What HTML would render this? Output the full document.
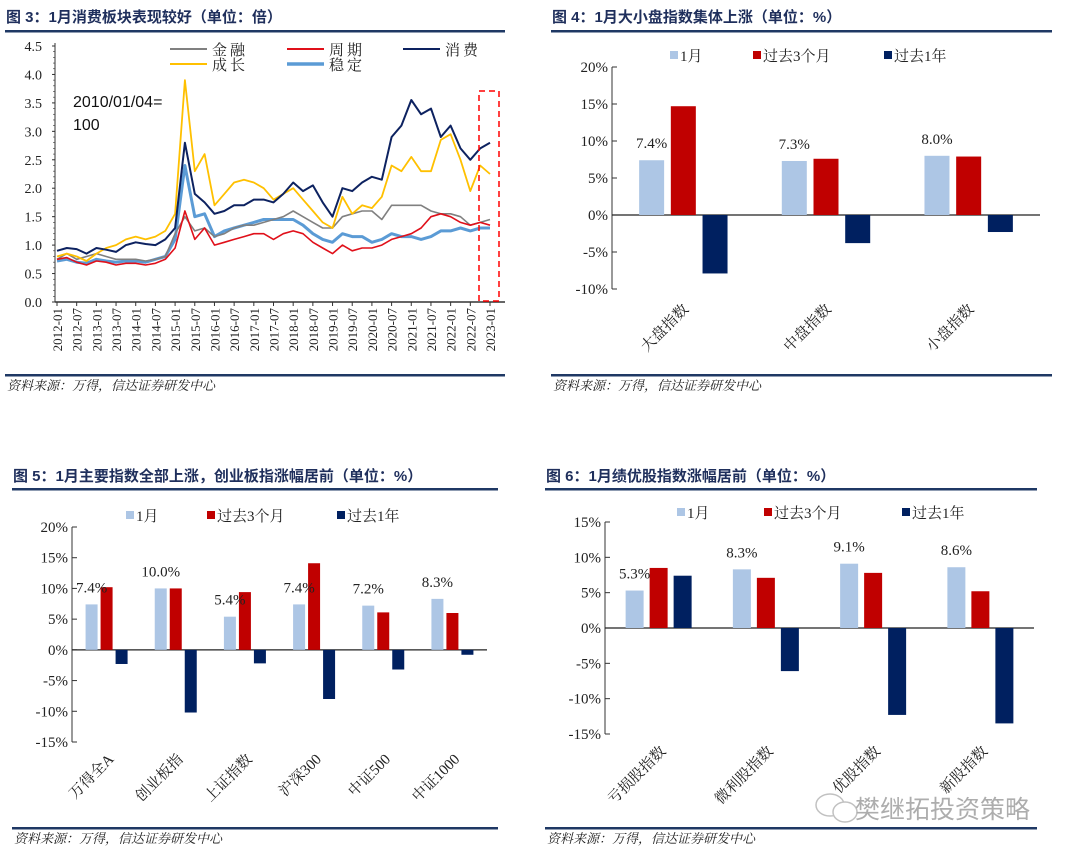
<!DOCTYPE html>
<html><head><meta charset="utf-8">
<style>
body{margin:0;background:#fff;width:1080px;height:858px;overflow:hidden}
svg{display:block}
.ttl{font-family:"Liberation Sans","Noto Sans CJK SC",sans-serif;font-weight:bold;font-size:15px;fill:#1f2f5c}
.src{font-family:"Liberation Serif","Noto Serif CJK SC",serif;font-style:italic;font-size:13px;fill:#222}
.tk{font-family:"Liberation Serif","Noto Serif CJK SC",serif;font-size:14px;fill:#222}
.lg{font-family:"Liberation Serif","Noto Serif CJK SC",serif;font-size:14px;fill:#222}
</style></head><body>
<svg id="root" width="1080" height="858" viewBox="0 0 1080 858"></svg>
<script>
// ---------- Chart 1 data (quarterly, 2012Q1..2023Q1) ----------
const lineStartYear = 2012;
const lineStepYears = 0.25;
const xTickLabels = ["2012-01","2012-07","2013-01","2013-07","2014-01","2014-07","2015-01","2015-07","2016-01","2016-07","2017-01","2017-07","2018-01","2018-07","2019-01","2019-07","2020-01","2020-07","2021-01","2021-07","2022-01","2022-07","2023-01"];
const yTicks1 = [0,0.5,1,1.5,2,2.5,3,3.5,4,4.5];
const seriesFinance = [0.75,0.85,0.75,0.8,0.85,0.8,0.75,0.75,0.75,0.72,0.75,0.8,1.2,1.5,1.25,1.3,1.15,1.2,1.3,1.35,1.35,1.4,1.45,1.5,1.6,1.5,1.4,1.3,1.3,1.5,1.55,1.6,1.6,1.45,1.7,1.7,1.7,1.7,1.6,1.55,1.55,1.5,1.35,1.4,1.45];
const seriesCycle = [0.75,0.78,0.7,0.65,0.72,0.7,0.65,0.68,0.68,0.65,0.68,0.75,0.95,1.6,1.1,1.3,1.0,1.05,1.1,1.15,1.2,1.2,1.1,1.2,1.25,1.2,1.05,0.95,0.85,1.0,0.9,0.95,0.95,1.0,1.1,1.15,1.2,1.3,1.5,1.55,1.5,1.4,1.35,1.4,1.35];
const seriesConsumer = [0.9,0.95,0.93,0.85,0.95,0.92,0.88,1.0,1.05,1.02,1.0,1.1,1.3,2.8,1.9,1.75,1.55,1.6,1.7,1.7,1.8,1.8,1.75,1.9,2.1,1.95,2.05,1.75,1.5,2.0,1.95,2.1,2.2,2.15,2.9,3.1,3.55,3.3,3.4,2.9,3.1,2.7,2.5,2.7,2.8];
const seriesGrowth = [0.8,0.85,0.8,0.72,0.85,0.95,1.0,1.1,1.15,1.1,1.15,1.25,1.55,3.9,2.3,2.6,1.7,1.9,2.1,2.15,2.1,2.0,1.8,1.9,2.0,1.8,1.6,1.4,1.3,1.85,1.55,1.7,1.65,1.85,2.4,2.3,2.55,2.3,2.3,2.85,2.95,2.5,1.95,2.4,2.25];
const seriesStable = [0.72,0.75,0.7,0.68,0.75,0.72,0.7,0.72,0.72,0.7,0.75,0.8,1.1,2.4,1.5,1.55,1.15,1.25,1.3,1.35,1.4,1.45,1.45,1.45,1.45,1.35,1.2,1.1,1.05,1.2,1.15,1.15,1.05,1.1,1.2,1.15,1.15,1.1,1.15,1.25,1.25,1.3,1.25,1.3,1.3];

// ---------- Chart 2 data ----------
const cats2 = ["大盘指数","中盘指数","小盘指数"];
const jan2 = [7.4,7.3,8.0];
const m3_2 = [14.7,7.6,7.9];
const y1_2 = [-7.9,-3.8,-2.3];
const yTicks2 = [-10,-5,0,5,10,15,20];

// ---------- Chart 3 data ----------
const cats3 = ["万得全A","创业板指","上证指数","沪深300","中证500","中证1000"];
const jan3 = [7.4,10.0,5.4,7.4,7.2,8.3];
const m3_3 = [10.2,10.0,9.4,14.1,6.1,6.0];
const y1_3 = [-2.3,-10.2,-2.2,-8.0,-3.2,-0.8];
const yTicks3 = [-15,-10,-5,0,5,10,15,20];

// ---------- Chart 4 data ----------
const cats4 = ["亏损股指数","微利股指数","优股指数","新股指数"];
const jan4 = [5.3,8.3,9.1,8.6];
const m3_4 = [8.5,7.1,7.8,5.2];
const y1_4 = [7.4,-6.1,-12.3,-13.5];
const yTicks4 = [-15,-10,-5,0,5,10,15];

const NS="http://www.w3.org/2000/svg";
const root=document.getElementById('root');
function mk(tag,attrs,parent,text){const e=document.createElementNS(NS,tag);for(const k in attrs)e.setAttribute(k,attrs[k]);if(text!==undefined)e.textContent=text;(parent||root).appendChild(e);return e;}
const NAVY="#1f3864";

function frame(x0,x1,titleY,lineY,title,srcLineY,name){
  const g=mk('g',{});
  
  
  const t=mk('text',{x:x0+1,y:titleY,'class':'ttl'},g,title);
  
  
  const l=mk('rect',{x:x0,y:lineY,width:x1-x0,height:2.5,fill:NAVY},g);
  
  
  const l2=mk('rect',{x:x0,y:srcLineY,width:x1-x0,height:2.5,fill:NAVY},g);
  
  
  const s=mk('text',{x:x0+2,y:srcLineY+16,'class':'src'},g,'资料来源：万得，信达证券研发中心');
  
  
  return g;
}

// ===== Chart 1 =====
(function(){
  const g=frame(5,505,22,30,'图 3：1月消费板块表现较好（单位：倍）',374,'consumer-line-chart');
  const X0=57,X1=490,Y0=302,YT=46;
  const xs=t=>X0+(t-2012)/11*(X1-X0);
  const ys=v=>Y0-(v/4.5)*(Y0-YT);
  mk('line',{x1:55,y1:YT-3,x2:55,y2:Y0,stroke:'#333','stroke-width':1},g);
  mk('line',{x1:55,y1:Y0,x2:505,y2:Y0,stroke:'#333','stroke-width':1.5},g);
  yTicks1.forEach(v=>{
    const tx=mk('text',{x:42,y:ys(v)+5,'text-anchor':'end','class':'tk'},g,v.toFixed(1));
    
    
    mk('line',{x1:52,y1:ys(v),x2:55,y2:ys(v),stroke:'#333'},g);
  });
  for(let v=0;v<=4.5;v+=0.1) mk('line',{x1:53,y1:ys(v),x2:55,y2:ys(v),stroke:'#333','stroke-width':0.6},g);
  xTickLabels.forEach((lab,i)=>{
    const x=xs(2012+i*0.5);
    mk('line',{x1:x,y1:Y0,x2:x,y2:Y0+4,stroke:'#333'},g);
    const tx=mk('text',{x:0,y:0,'text-anchor':'end','class':'tk',style:'font-size:13px',transform:`translate(${x+5},${Y0+6}) rotate(-90)`},g,lab);
    
    
  });
  const defs=[[seriesStable,'#5b9bd5',3,'series-stable'],[seriesFinance,'#808080',1.6,'series-finance'],[seriesCycle,'#e0101a',1.6,'series-cycle'],[seriesGrowth,'#ffc000',1.8,'series-growth'],[seriesConsumer,'#0d2260',2,'series-consumer']];
  defs.forEach(([arr,c,w,n])=>{
    const pts=arr.map((v,i)=>xs(lineStartYear+i*lineStepYears).toFixed(1)+','+ys(v).toFixed(1)).join(' ');
    const p=mk('polyline',{points:pts,fill:'none',stroke:c,'stroke-width':w,'stroke-linejoin':'round'},g);
    
    
  });
  const box=mk('rect',{x:479,y:91,width:20,height:210,fill:'none',stroke:'#ff0000','stroke-width':1.5,'stroke-dasharray':'6,4'},g);
  
  
  const leg=[[170,49,'#808080',2,'金融'],[287,49,'#e0101a',2,'周期'],[403,49,'#0d2260',2,'消费'],[170,64,'#ffc000',2,'成长'],[287,64,'#5b9bd5',3.5,'稳定']];
  leg.forEach(([x,y,c,w,t])=>{
    const lg=mk('g',{},g);
    
    
    mk('line',{x1:x,y1:y,x2:x+37,y2:y,stroke:c,'stroke-width':w},lg);
    mk('text',{x:x+42,y:y+6,'class':'lg',style:'font-size:15px;letter-spacing:3px'},lg,t);
  });
  const a=mk('text',{x:73,y:107,style:'font-family:"Liberation Sans",sans-serif;font-size:16px;fill:#111'},g,'2010/01/04=');
  
  
  mk('text',{x:73,y:130,style:'font-family:"Liberation Sans",sans-serif;font-size:16px;fill:#111'},g,'100');
})();

// ===== Bar charts =====
function barChart(o){
  const g=frame(o.fx0,o.fx1,o.titleY,o.lineY,o.title,o.srcY,o.name);
  const yMin=o.ticks[0],yMax=o.ticks[o.ticks.length-1];
  const ys=v=>o.yBot-(v-yMin)/(yMax-yMin)*(o.yBot-o.yTop);
  mk('line',{x1:o.ax,y1:o.yTop,x2:o.ax,y2:o.yBot,stroke:'#333'},g);
  o.ticks.forEach(v=>{
    mk('line',{x1:o.ax,y1:ys(v),x2:o.ax+5,y2:ys(v),stroke:'#333'},g);
    const t=mk('text',{x:o.ax-4,y:ys(v)+5,'text-anchor':'end','class':'tk',style:'font-size:15px'},g,v+'%');
    
    
  });
  mk('line',{x1:o.ax,y1:ys(0),x2:o.axEnd,y2:ys(0),stroke:'#222','stroke-width':1.2},g);
  const n=o.cats.length,gw=(o.axEnd-o.ax)/n;
  const series=[[o.s1,'#adc6e5','bar-1m'],[o.s2,'#c00000','bar-3m'],[o.s3,'#002060','bar-1y']];
  o.cats.forEach((c,i)=>{
    const cx=o.ax+gw*(i+0.5);
    series.forEach(([arr,col,nm],k)=>{
      const v=arr[i];
      const x=cx+(k-1)*o.step-o.bw/2;
      const r=mk('rect',{x:x,y:Math.min(ys(v),ys(0)),width:o.bw,height:Math.abs(ys(v)-ys(0)),fill:col},g);
      
      
    });
    const lx=cx-o.step;
    const lab=mk('text',{x:lx,y:ys(o.s1[i])-12,'text-anchor':'middle','class':'tk',style:'font-size:15px'},g,o.s1[i].toFixed(1)+'%');
    
    
    const cl=mk('text',{x:0,y:0,'text-anchor':'end','class':'tk',style:'font-size:15px',transform:`translate(${cx+o.catDx},${o.catY}) rotate(-45)`},g,c);
    
    
  });
  const leg=[['#adc6e5','1月'],['#c00000','过去3个月'],['#002060','过去1年']];
  leg.forEach(([c,t],k)=>{
    const lg=mk('g',{},g);
    
    
    mk('rect',{x:o.legX[k],y:o.legY-4,width:8,height:8,fill:c},lg);
    mk('text',{x:o.legX[k]+10,y:o.legY+6,'class':'lg',style:'font-size:15px'},lg,t);
  });
}
barChart({name:'size-index-bar-chart',fx0:551,fx1:1052,titleY:22,lineY:30,srcY:374,title:'图 4：1月大小盘指数集体上涨（单位：%）',
  ax:612,axEnd:1040,yTop:67,yBot:289,ticks:yTicks2,cats:cats2,s1:jan2,s2:m3_2,s3:y1_2,bw:25,step:31.7,catDx:6,catY:310,legX:[670,753,884],legY:55});
barChart({name:'major-index-bar-chart',fx0:12,fx1:498,titleY:481,lineY:488,srcY:827,title:'图 5：1月主要指数全部上涨，创业板指涨幅居前（单位：%）',
  ax:72,axEnd:487,yTop:527,yBot:742,ticks:yTicks3,cats:cats3,s1:jan3,s2:m3_3,s3:y1_3,bw:12,step:15,catDx:8,catY:760,legX:[126,207,337],legY:515});
barChart({name:'performance-index-bar-chart',fx0:545,fx1:1037,titleY:481,lineY:488,srcY:827,title:'图 6：1月绩优股指数涨幅居前（单位：%）',
  ax:605,axEnd:1034,yTop:522,yBot:734,ticks:yTicks4,cats:cats4,s1:jan4,s2:m3_4,s3:y1_4,bw:18,step:24,catDx:8,catY:752,legX:[677,764,902],legY:512});

// watermark
const wm=mk('g',{opacity:0.6});


mk('ellipse',{cx:830,cy:805,rx:14,ry:11,fill:'none',stroke:'#999','stroke-width':1.5},wm);
mk('ellipse',{cx:845,cy:812,rx:12,ry:10,fill:'#fff',stroke:'#999','stroke-width':1.5},wm);
mk('text',{x:855,y:818,style:'font-family:"Noto Sans CJK SC",sans-serif;font-size:25px;fill:#777'},wm,'樊继拓投资策略');
</script>
</body></html>
